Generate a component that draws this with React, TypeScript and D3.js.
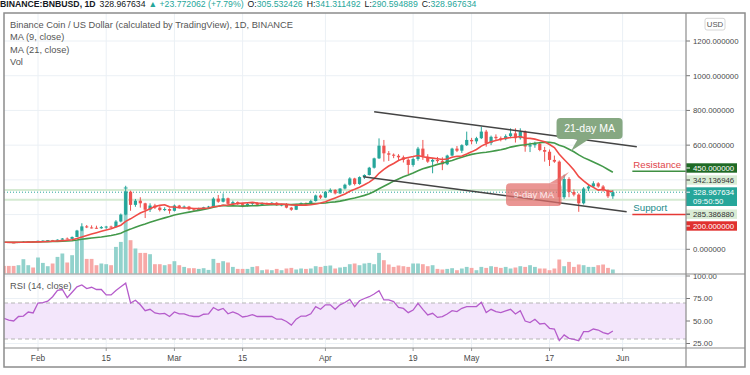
import React from 'react';
import * as d3 from 'd3';

// BNB/USD daily, Binance, 2021-01-25 .. 2021-05-30
const firstDay = '2021-01-25';

// [open, high, low, close]
const ohlc: [number, number, number, number][] = [
  [42, 44, 40, 41], [41, 42, 39, 40], [40, 41, 37, 38.5], [38.5, 42, 38, 41.5], [41.5, 47, 40, 44],
  [44, 45, 42, 44.5], [44.5, 45, 42, 43.5], [43.5, 50, 43, 49], [49, 52, 47, 50], [50, 53, 49, 52.5],
  [52.5, 54, 49, 51], [51, 57, 50, 55.5], [55.5, 65, 55, 62], [62, 68, 58, 60], [60, 74, 59, 71],
  [71, 112, 70, 108], [108, 150, 104, 132], [132, 140, 122, 126], [126, 138, 120, 124], [124, 136, 118, 121],
  [121, 134, 118, 128], [128, 135, 118, 131], [131, 136, 122, 128], [128, 168, 126, 160], [160, 206, 155, 200],
  [200, 366, 196, 332], [332, 338, 222, 256], [256, 290, 245, 280], [280, 300, 240, 265], [265, 268, 180, 228],
  [228, 265, 215, 252], [252, 262, 232, 240], [240, 248, 218, 226], [226, 242, 220, 232], [232, 236, 205, 222],
  [222, 258, 218, 252], [252, 256, 235, 240], [240, 252, 236, 246], [246, 250, 225, 230], [230, 238, 220, 226],
  [226, 240, 224, 234], [234, 245, 230, 242], [242, 250, 236, 246], [246, 300, 244, 292], [292, 313, 268, 274],
  [274, 322, 270, 294], [294, 298, 255, 262], [262, 280, 256, 272], [272, 276, 255, 260], [260, 266, 242, 250],
  [250, 268, 246, 262], [262, 272, 255, 268], [268, 272, 252, 256], [256, 270, 252, 266], [266, 270, 256, 260],
  [260, 272, 254, 268], [268, 272, 250, 254], [254, 262, 248, 258], [258, 266, 236, 240], [240, 244, 222, 228],
  [228, 262, 226, 258], [258, 270, 256, 266], [266, 270, 255, 260], [260, 285, 258, 278], [278, 315, 275, 310],
  [310, 316, 290, 298], [298, 335, 295, 332], [332, 351, 326, 342], [342, 346, 316, 322], [322, 352, 318, 350],
  [350, 378, 345, 372], [372, 415, 366, 408], [408, 412, 368, 376], [376, 420, 372, 416], [416, 432, 405, 428],
  [428, 475, 425, 470], [470, 528, 465, 524], [524, 639, 520, 597], [597, 630, 505, 553], [553, 566, 509, 545],
  [545, 552, 525, 539], [539, 548, 515, 530], [530, 540, 500, 516], [516, 524, 432, 486], [486, 530, 476, 520],
  [520, 590, 510, 580], [580, 630, 515, 534], [534, 548, 498, 505], [505, 525, 438, 515], [515, 532, 498, 508],
  [508, 530, 456, 490], [490, 545, 485, 540], [540, 585, 535, 580], [580, 595, 560, 568], [568, 605, 555, 600],
  [600, 678, 595, 630], [630, 642, 605, 622], [622, 648, 608, 640], [640, 706, 635, 678], [678, 688, 591, 612],
  [612, 655, 600, 648], [648, 662, 628, 640], [640, 650, 622, 634], [634, 662, 628, 652], [652, 697, 640, 668],
  [668, 697, 615, 640], [640, 697, 632, 678], [678, 685, 562, 592], [592, 615, 560, 600], [600, 620, 585, 608],
  [608, 612, 565, 572], [572, 590, 505, 562], [562, 575, 480, 515], [515, 540, 498, 505], [505, 512, 255, 300],
  [300, 430, 290, 405], [405, 415, 300, 330], [330, 345, 305, 315], [315, 322, 216, 265], [265, 358, 258, 350],
  [350, 375, 335, 362], [362, 392, 358, 380], [380, 386, 355, 362], [362, 370, 332, 340], [340, 345, 296, 305.53],
  [305.53, 341.31, 290.59, 328.97],
];

const volumes = [
  76, 76, 76, 83, 143, 83, 60, 160, 106, 73,
  100, 166, 200, 110, 183, 333, 433, 146, 146, 83,
  100, 93, 83, 266, 316, 866, 333, 250, 206, 206,
  193, 93, 93, 83, 93, 123, 83, 66, 53, 53,
  46, 53, 36, 146, 106, 123, 110, 66, 46, 46,
  46, 66, 73, 33, 40, 33, 46, 33, 50, 56,
  40, 50, 46, 50, 73, 66, 76, 80, 50, 60,
  66, 93, 100, 83, 100, 106, 93, 206, 133, 90,
  66, 80, 73, 66, 100, 100, 93, 73, 83, 46,
  40, 46, 53, 33, 50, 66, 56, 33, 66, 56,
  73, 66, 56, 66, 50, 60, 73, 66, 83, 66,
  50, 50, 33, 50, 140, 73, 116, 66, 90, 83,
  66, 66, 83, 90, 56, 40,
];

const rsiValues = [
  53, 51, 50, 55, 55.5, 60, 59, 70, 70.5, 72,
  77, 84, 85, 76, 82, 88, 90, 86, 87.5, 85,
  85, 79, 79, 84, 88, 92, 70, 73, 68, 61.5,
  63, 59, 58, 58.5, 55, 60, 58, 58, 56, 55,
  55, 57.5, 58, 65, 62, 64, 58, 60, 58, 54.5,
  55.5, 57, 55, 55, 55, 55, 52, 52, 49.5, 45.5,
  52, 55.5, 55.5, 58, 66, 63, 68, 68, 63, 68,
  70.5, 74, 66, 72.5, 75, 77, 80, 83.7, 73.4, 73.4,
  71.5, 65.2, 64, 59.3, 62.2, 69.7, 63, 56.7, 58.5, 54,
  54.8, 57.8, 61.5, 60.4, 64.1, 66, 66, 66, 70.8, 59.3,
  63, 60.4, 59.3, 61.2, 63, 57.8, 61.5, 50, 48.2, 51.9,
  46.7, 47.4, 41.9, 41.1, 28.2, 34.5, 30.8, 29.7, 28.2, 38.2,
  38.2, 41.1, 40, 37.1, 35.6, 38.9,
];

const priceTicks = [0, 600, 800, 1000, 1200];
const priceGrid = [0, 200, 400, 600, 800, 1000, 1200];
const rsiTicks = [100, 75, 50, 25];
const timeTicks: [string, string][] = [
  ['2021-02-01', 'Feb'], ['2021-02-15', '15'], ['2021-03-01', 'Mar'], ['2021-03-15', '15'],
  ['2021-04-01', 'Apr'], ['2021-04-19', '19'], ['2021-05-01', 'May'], ['2021-05-17', '17'],
  ['2021-06-01', 'Jun'], ['2021-06-15', '15'],
];

const upperChannel: [string, number][] = [['2021-04-11T00:00Z', 793], ['2021-06-03T22:00Z', 591]];
const lowerChannel: [string, number][] = [['2021-04-08T18:00Z', 418], ['2021-06-01T20:00Z', 216.6]];
const resistance = 450;
const support = 200;
const levelStart = '2021-06-03T00:00Z';
const lastPrice = 328.967634;
const upperBand = 342.136946;
const lowerBand = 285.38688;

const FONT = '"Liberation Sans", Arial, sans-serif';
const UP = '#26a69a';
const DOWN = '#ef5350';
const TXT = '#4a4a4a';

const L = 4, AX = 686, R = 745, T = 13, MAINB = 274, RSIB = 348, B = 367;

const App = () => {
  const start = new Date(firstDay);
  const dates = ohlc.map((_, i) => d3.utcDay.offset(start, i));
  const closes = ohlc.map(d => d[3]);

  const x = d3.scaleUtc()
    .domain([new Date('2021-02-01'), new Date('2021-06-01')])
    .range([38, 622.6]);
  const y = d3.scaleLinear().domain([0, 1200]).range([249.3, 41]);
  const yVol = d3.scaleLinear().domain([0, 1000]).range([273.5, 173.5]);
  const yRsi = d3.scaleLinear().domain([0, 100]).range([366, 276]);

  const movingAvg = (n: number) =>
    closes.map((_, i) => d3.mean(closes.slice(Math.max(0, i - n + 1), i + 1)) as number);
  const ma9 = movingAvg(9);
  const ma21 = movingAvg(21);

  const priceLine = d3.line<number>().x((_, i) => x(dates[i])).y(v => y(v));
  const rsiLine = d3.line<number>().x((_, i) => x(dates[i])).y(v => yRsi(v));
  const seg = (pts: [string, number][]) =>
    d3.line<[string, number]>().x(d => x(new Date(d[0]))).y(d => y(d[1]))(pts) as string;

  const bodyW = 3.2;
  const volW = 3.8;
  const levelX = x(new Date(levelStart));

  // axis labels with their collision-shifted centres
  const axisBoxes = [
    { text: '450.000000', cy: y(resistance) - 3.2, fill: '#1f6a25', color: '#fff' },
    { text: upperBand.toFixed(6), cy: y(upperBand) - 9.9, fill: '#d9ecd5', color: '#333' },
    { text: lowerBand.toFixed(6), cy: y(lowerBand) + 14.4, fill: '#d9ecd5', color: '#333' },
    { text: '200.000000', cy: y(support) + 11.4, fill: '#e0312f', color: '#fff' },
  ];

  const tip21x = x(new Date('2021-05-21T10:00Z')), tip21y = y(566);
  const tip9x = x(new Date('2021-05-21T00:00Z')), tip9y = y(445);

  return (
    <svg width={750} height={375} style={{ position: 'fixed', left: 0, top: 0, background: '#fff' }}
      fontFamily={FONT}>
      <defs>
        <clipPath id="mainClip"><rect x={L} y={T} width={AX - L} height={MAINB - T} /></clipPath>
        <clipPath id="rsiClip"><rect x={L} y={MAINB} width={AX - L} height={RSIB - MAINB} /></clipPath>
        <clipPath id="timeClip"><rect x={L} y={RSIB} width={AX - L} height={B - RSIB} /></clipPath>
      </defs>
      <rect width={750} height={375} fill="#fff" />

      {/* header */}
      <text x={0} y={6.8} fontSize={8.7} fill="#131722">
        <tspan fontWeight="bold">BINANCE:BNBUSD, 1D</tspan>
        <tspan dx={4}>328.967634</tspan>
        <tspan dx={3} fill={UP}>▲ +23.772062 (+7.79%)</tspan>
        <tspan dx={4}>O:</tspan><tspan fill={UP}>305.532426</tspan>
        <tspan dx={4}>H:</tspan><tspan fill={UP}>341.311492</tspan>
        <tspan dx={4}>L:</tspan><tspan fill={UP}>290.594889</tspan>
        <tspan dx={4}>C:</tspan><tspan fill={UP}>328.967634</tspan>
      </text>

      {/* grid */}
      <g stroke="#ebf0f5" strokeWidth={1}>
        {priceGrid.map(p => <line key={p} x1={L} x2={AX} y1={y(p)} y2={y(p)} />)}
        {rsiTicks.map(v => <line key={v} x1={L} x2={AX} y1={yRsi(v)} y2={yRsi(v)} />)}
        {timeTicks.map(([d]) => {
          const xx = x(new Date(d));
          return xx < AX ? <line key={d} x1={xx} x2={xx} y1={T} y2={RSIB} /> : null;
        })}
      </g>

      <g clipPath="url(#mainClip)">
        {/* volume */}
        {volumes.map((v, i) => (
          <rect key={i} x={x(dates[i]) - volW / 2} width={volW} y={yVol(v)} height={yVol(0) - yVol(v)}
            fill={ohlc[i][3] >= ohlc[i][0] ? '#92d2cc' : '#f7a9a7'} />
        ))}
        {/* price bands */}
        <line x1={L} x2={AX} y1={y(upperBand)} y2={y(upperBand)} stroke="#d5ead2" strokeWidth={2} />
        <line x1={L} x2={AX} y1={y(lowerBand)} y2={y(lowerBand)} stroke="#d5ead2" strokeWidth={2} />
        <line x1={L} x2={AX} y1={y(lastPrice)} y2={y(lastPrice)} stroke={UP} strokeWidth={1}
          strokeDasharray="1 2" />
        {/* candles */}
        {ohlc.map(([o, h, l, c], i) => {
          const cx = x(dates[i]);
          const col = c >= o ? UP : DOWN;
          const top = y(Math.max(o, c));
          return (
            <g key={i}>
              <line x1={cx} x2={cx} y1={y(h)} y2={y(l)} stroke={col} strokeWidth={1} />
              <rect x={cx - bodyW / 2} width={bodyW} y={top} height={Math.max(1, y(Math.min(o, c)) - top)}
                fill={col} />
            </g>
          );
        })}
        {/* moving averages */}
        <path d={priceLine(ma21) as string} fill="none" stroke="#43994a" strokeWidth={1.6} />
        <path d={priceLine(ma9) as string} fill="none" stroke="#f04c47" strokeWidth={1.6} />
        {/* channel */}
        <path d={seg(upperChannel)} stroke="#444" strokeWidth={1.5} />
        <path d={seg(lowerChannel)} stroke="#444" strokeWidth={1.5} />
        {/* callouts */}
        <g>
          <rect x={tip21x - 14.5} y={tip21y - 33} width={66} height={21} rx={4} fill="#86a882" />
          <polygon points={`${tip21x + 7},${tip21y - 12.5} ${tip21x + 19},${tip21y - 12.5} ${tip21x},${tip21y}`}
            fill="#86a882" />
          <text x={tip21x + 18.5} y={tip21y - 18.7} textAnchor="middle" fontSize={10.5} fill="#fff">21-day MA</text>
        </g>
        <g opacity={0.72}>
          <polygon points={`${tip9x - 20},${tip9y + 11.5} ${tip9x - 10},${tip9y + 11.5} ${tip9x},${tip9y}`}
            fill="#e26d6a" />
          <rect x={tip9x - 63} y={tip9y + 11.3} width={55.5} height={22.7} rx={4} fill="#e26d6a" />
          <text x={tip9x - 35.2} y={tip9y + 26} textAnchor="middle" fontSize={9.5} fill="#fbe3e3">9-day MA</text>
        </g>
        {/* resistance / support */}
        <line x1={levelX} x2={AX} y1={y(resistance)} y2={y(resistance)} stroke="#3f8f43" strokeWidth={1.5} />
        <text x={levelX + 1} y={y(resistance) - 2.8} fontSize={9.7} fill="#e0464b">Resistance</text>
        <line x1={levelX} x2={AX} y1={y(support)} y2={y(support)} stroke="#e53935" strokeWidth={1.5} />
        <text x={levelX + 1} y={y(support) - 3.8} fontSize={9.7} fill="#218a8a">Support</text>
      </g>

      {/* legends */}
      <g fontSize={9.3} fill="#555">
        <text x={10} y={27.8}>Binance Coin / US Dollar (calculated by TradingView), 1D, BINANCE</text>
        <text x={10} y={40.3}>MA (9, close)</text>
        <text x={10} y={52.8}>MA (21, close)</text>
        <text x={10} y={65.3}>Vol</text>
        <text x={10} y={289.3}>RSI (14, close)</text>
      </g>

      {/* RSI pane */}
      <g clipPath="url(#rsiClip)">
        <rect x={L} width={AX - L} y={yRsi(70)} height={yRsi(30) - yRsi(70)} fill="#f3e6fb" />
        <line x1={L} x2={AX} y1={yRsi(70)} y2={yRsi(70)} stroke="#b5b5b5" strokeDasharray="4 3" />
        <line x1={L} x2={AX} y1={yRsi(30)} y2={yRsi(30)} stroke="#b5b5b5" strokeDasharray="4 3" />
        <path d={rsiLine(rsiValues) as string} fill="none" stroke="#b55ccb" strokeWidth={1.3} />
      </g>

      {/* price axis */}
      <g fontSize={7.8} fill={TXT}>
        {priceTicks.map(p => (
          <g key={p}>
            <line x1={AX} x2={AX + 4} y1={y(p)} y2={y(p)} stroke="#777" />
            <text x={693} y={y(p) + 2.8}>{p.toFixed(6)}</text>
          </g>
        ))}
        {rsiTicks.map(v => (
          <g key={v}>
            <line x1={AX} x2={AX + 4} y1={yRsi(v)} y2={yRsi(v)} stroke="#777" />
            <text x={693} y={yRsi(v) + 2.8}>{v.toFixed(2)}</text>
          </g>
        ))}
        {axisBoxes.map(b => (
          <g key={b.text}>
            <rect x={AX} y={b.cy - 4.7} width={51} height={9.4} fill={b.fill} />
            <line x1={AX} x2={AX + 4} y1={b.cy} y2={b.cy} stroke={b.color} />
            <text x={693} y={b.cy + 2.8} fill={b.color}>{b.text}</text>
          </g>
        ))}
        <rect x={AX} y={y(lastPrice) - 4.9} width={51} height={18.7} fill={UP} />
        <line x1={AX} x2={AX + 4} y1={y(lastPrice)} y2={y(lastPrice)} stroke="#fff" />
        <text x={693} y={y(lastPrice) + 3} fill="#fff">{lastPrice.toFixed(6)}</text>
        <text x={693} y={y(lastPrice) + 12} fill="#fff">09:50:50</text>
      </g>

      {/* USD button */}
      <rect x={705} y={18.3} width={20} height={11.7} rx={2} fill="#fff" stroke="#d6d6d6" />
      <text x={715} y={27} textAnchor="middle" fontSize={7.8} fill="#555">USD</text>

      {/* time axis */}
      <g clipPath="url(#timeClip)" fontSize={8.3} fill={TXT}>
        {timeTicks.map(([d, lab]) => {
          const xx = x(new Date(d));
          return (
            <g key={d}>
              <line x1={xx} x2={xx} y1={RSIB} y2={RSIB + 3} stroke="#999" />
              <text x={xx} y={360.7} textAnchor="middle">{lab}</text>
            </g>
          );
        })}
      </g>

      {/* frame */}
      <g stroke="#8c8c8c" fill="none">
        <rect x={L} y={T} width={R - L} height={B - T} strokeWidth={1.5} />
        <line x1={AX} x2={AX} y1={T} y2={B} strokeWidth={1.2} />
        <line x1={L} x2={R} y1={MAINB} y2={MAINB} strokeWidth={1.2} />
        <line x1={L} x2={R} y1={RSIB} y2={RSIB} strokeWidth={1.2} />
      </g>
    </svg>
  );
};

export default App;
